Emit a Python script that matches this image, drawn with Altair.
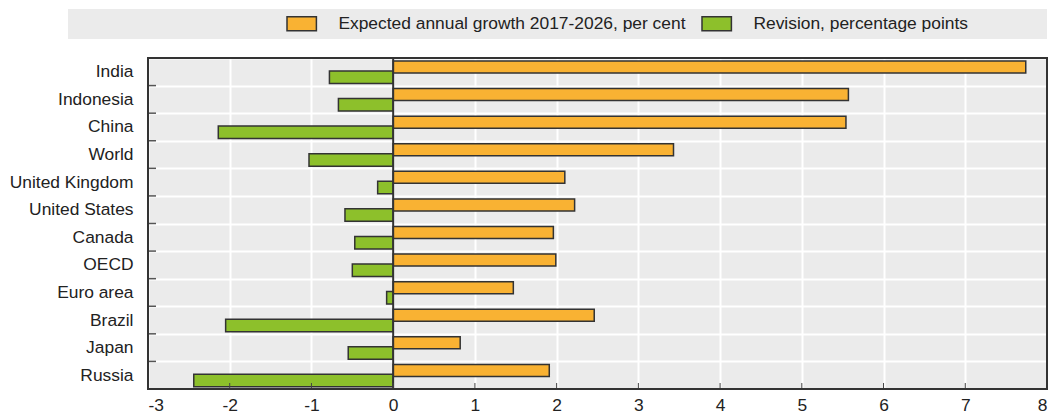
import altair as alt
import pandas as pd

countries = ["India", "Indonesia", "China", "World", "United Kingdom", "United States",
             "Canada", "OECD", "Euro area", "Brazil", "Japan", "Russia"]
growth = [7.74, 5.57, 5.54, 3.43, 2.10, 2.22, 1.96, 1.99, 1.47, 2.46, 0.82, 1.91]
revision = [-0.78, -0.67, -2.14, -1.03, -0.19, -0.59, -0.47, -0.50, -0.08, -2.05, -0.55, -2.44]
series = ["Expected annual growth 2017-2026, per cent", "Revision, percentage points"]
colors = ["#F9B233", "#8DC02B"]
x_ticks = [-3, -2, -1, 0, 1, 2, 3, 4, 5, 6, 7, 8]

FONT = "Liberation Sans, Arial, sans-serif"
FS = 17.4
W, H = 899, 331

rows = []
for c, g, r in zip(countries, growth, revision):
    rows.append({"country": c, "series": series[0], "value": g})
    rows.append({"country": c, "series": series[1], "value": r})
df = pd.DataFrame(rows)

yscale = alt.Scale(domain=countries, paddingInner=0, paddingOuter=0)
xscale = alt.Scale(domain=[-3, 8], nice=False, zero=False)
cscale = alt.Scale(domain=series, range=colors)

xaxis = alt.Axis(values=x_ticks, title=None, grid=True, gridColor="white",
                 labelExpr="datum.value < 0 ? '-' + abs(datum.value) : '' + datum.value",
                 gridWidth=2, ticks=False, domain=False, labelPadding=7,
                 labelFontSize=FS, labelColor="#222", labelFont=FONT)
yaxis = alt.Axis(title=None, grid=True, gridColor="white", gridWidth=2,
                 tickBand="extent", ticks=False, domain=False, labelPadding=15,
                 labelFontSize=FS, labelColor="#222", labelFont=FONT, labelLimit=300)


def X(field):
    return alt.X(field, scale=xscale, axis=xaxis)


def Y(field, **kw):
    return alt.Y(field, scale=yscale, sort=countries, axis=yaxis, **kw)


base = alt.Chart(df)

bar_g = base.transform_filter(alt.datum.series == series[0]).mark_bar(
    height=12, stroke="#333", strokeWidth=1.5
).encode(
    x=X("value:Q"), x2=alt.datum(0), y=Y("country:N"),
    yOffset=alt.value(9),
    color=alt.Color("series:N", scale=cscale,
                    legend=alt.Legend(title=None, orient="none", direction="horizontal",
                                      legendX=145, legendY=-43,
                                      symbolType="M-2.1,-1H2.1V1H-2.1Z",
                                      symbolSize=196, symbolStrokeColor="#333",
                                      symbolStrokeWidth=1.5, symbolOpacity=1,
                                      labelFontSize=FS, labelFont=FONT, labelColor="#222",
                                      labelOffset=28, columnPadding=12, labelLimit=600)),
)
bar_r = base.transform_filter(alt.datum.series == series[1]).mark_bar(
    height=12.5, stroke="#333", strokeWidth=1.5
).encode(
    x=X("value:Q"), x2=alt.datum(0), y=Y("country:N"),
    yOffset=alt.value(19.2),
    color=alt.Color("series:N", scale=cscale),
)

one = pd.DataFrame({"a": [0]})
legend_bg = alt.Chart(one).mark_rect(color="#EBEBEB").encode(
    x=alt.value(-80), x2=alt.value(W), y=alt.value(-49), y2=alt.value(-19)
)

ytick_df = pd.DataFrame({"country": countries[1:]})
yticks = alt.Chart(ytick_df).mark_rule(color="#555", strokeWidth=1.5).encode(
    y=Y("country:N", bandPosition=0), x=alt.value(0), x2=alt.value(8)
)

xtick_df = pd.DataFrame({"value": x_ticks})
xticks = alt.Chart(xtick_df).mark_rule(color="#444", strokeWidth=1).encode(
    x=X("value:Q"), y=alt.value(H - 6), y2=alt.value(H)
)

zero_df = pd.DataFrame({"value": [0]})
zero = alt.Chart(zero_df).mark_rule(color="#333", strokeWidth=2).encode(
    x=X("value:Q"), y=alt.value(0), y2=alt.value(H)
)

frame = alt.Chart(one).mark_rect(fill=None, stroke="#333", strokeWidth=2).encode(
    x=alt.value(0), x2=alt.value(W), y=alt.value(0), y2=alt.value(H)
)

chart = alt.layer(legend_bg, bar_g, bar_r, zero, yticks, xticks, frame).properties(
    width=W, height=H,
    autosize=alt.AutoSizeParams(type="none"),
    padding={"left": 140, "top": 50, "right": 4, "bottom": 27},
    background="white",
).configure_view(
    fill="#EBEBEB", stroke="#333", strokeWidth=2
)

chart.save("out.html", embed_options={"renderer": "svg", "actions": False})
